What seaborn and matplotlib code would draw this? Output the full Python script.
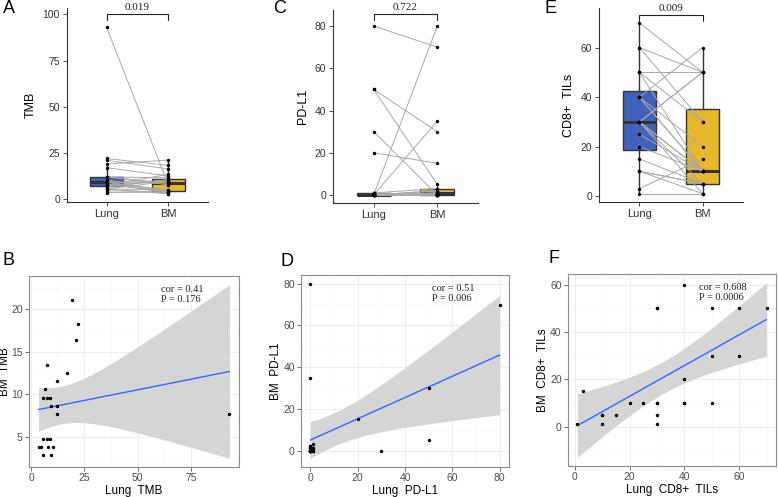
import numpy as np
import pandas as pd
import matplotlib
matplotlib.use('Agg')
import matplotlib.pyplot as plt
import seaborn as sns

# paired values (lung, brain metastasis)
tmb_lung = [19, 22, 21, 7.5, 17, 12, 6.5, 5.5, 7.5, 9, 9.5, 12, 12, 93,
            5.5, 7.5, 9, 3.5, 4.5, 8, 10.5, 5.5, 9.5]
tmb_bm = [21.1, 18.2, 16.3, 13.4, 12.5, 11.5, 10.6, 9.6, 9.6, 9.6, 8.6, 8.6,
          7.7, 7.7, 4.8, 4.8, 4.8, 3.8, 3.8, 3.8, 3.8, 2.9, 2.9]

pdl1_lung = [80, 50, 50, 30, 20, 0, 0, 0, 0, 0, 0, 0, 1, 1, 0, 0, 0, 0, 0,
             0, 1, 0, 1, 0, 1]
pdl1_bm = [70, 30, 5, 0, 15, 80, 35, 0, 1, 0, 0, 2, 1, 3, 0, 0, 1, 0, 0,
           0, 0, 0, 1, 2, 0]

cd8_lung = [1, 3, 10, 10, 15, 20, 25, 30, 30, 30, 30, 40, 40, 40, 50, 50,
            50, 60, 60, 70, 10, 30, 30, 40]
cd8_bm = [1, 15, 5, 1, 5, 10, 10, 10, 5, 1, 50, 60, 20, 10, 50, 30, 10, 50,
          30, 50, 5, 10, 50, 10]

groups = ['Lung', 'BM']
pvals = ['0.019', '0.722', '0.009']
cor_text = [('0.41', '0.176'), ('0.51', '0.006'), ('0.608', '0.0006')]

BLUE = '#4062BC'
YELLOW = '#E6B92C'
W, H = 778, 497

sns.set_theme(style='white')
plt.rcParams['font.family'] = ['Liberation Sans', 'DejaVu Sans']
SERIF = ['Liberation Serif', 'DejaVu Serif']

fig = plt.figure(figsize=(W / 100, H / 100), dpi=100)


def px_axes(l, t, r, b):
    return fig.add_axes([l / W, 1 - b / H, (r - l) / W, (b - t) / H])


def t_crit(df):
    z = 1.959964
    return (z + (z ** 3 + z) / (4 * df)
            + (5 * z ** 5 + 16 * z ** 3 + 3 * z) / (96 * df ** 2))


def paired_panel(ax, lung, bm, ylabel, pval, ylim, yticks, bracket):
    n = len(lung)
    df = pd.DataFrame({
        'pair': np.tile(np.arange(n), 2),
        'group': ['Lung'] * n + ['BM'] * n,
        'pos': [0] * n + [1] * n,
        'value': np.concatenate([lung, bm]),
    })
    sns.boxplot(data=df, x='group', y='value', hue='group', order=groups,
                palette={'Lung': BLUE, 'BM': YELLOW}, saturation=1,
                width=0.53, linecolor='#333333', linewidth=1,
                showfliers=False, showcaps=False,
                medianprops={'linewidth': 2.2}, legend=False, ax=ax)
    sns.lineplot(data=df, x='pos', y='value', units='pair', estimator=None,
                 color='#A8A8A8', lw=0.7, ax=ax, zorder=3)
    sns.scatterplot(data=df, x='pos', y='value', color='black', s=6,
                    linewidth=0, ax=ax, zorder=4)

    # significance bracket
    y1 = bracket
    y0 = y1 - 0.03 * (ylim[1] - ylim[0])
    ax.plot([0, 0, 1, 1], [y0, y1, y1, y0], color='#222222', lw=0.8,
            clip_on=False, zorder=5)
    ax.annotate(pval, (0.5, y1), xytext=(0, 1.5), textcoords='offset points',
                family=SERIF, fontsize=8, ha='center', va='bottom',
                color='#222222', annotation_clip=False)

    ax.set_xlim(-0.64, 1.64)
    ax.set_ylim(*ylim)
    ax.set_yticks(yticks)
    ax.set_xticks([0, 1], groups)
    ax.set_xlabel('')
    ax.set_ylabel(ylabel, fontsize=9, color='black')
    ax.tick_params(axis='both', length=3, width=0.6, color='#333333',
                   labelsize=8, labelcolor='#333333', left=True, bottom=True,
                   pad=2)
    ax.tick_params(axis='y', labelsize=7.5)
    for s in ['top', 'right']:
        ax.spines[s].set_visible(False)
    for s in ['left', 'bottom']:
        ax.spines[s].set_color('#333333')
        ax.spines[s].set_linewidth(0.8)


def cor_panel(ax, x, y, xlabel, ylabel, cor, p, xticks, yticks, xminor,
              yminor):
    x = np.asarray(x, float)
    y = np.asarray(y, float)
    n = len(x)
    xm = x.mean()
    sxx = ((x - xm) ** 2).sum()
    slope = ((x - xm) * (y - y.mean())).sum() / sxx
    icpt = y.mean() - slope * xm
    resid = y - (icpt + slope * x)
    s = np.sqrt((resid ** 2).sum() / (n - 2))
    grid = np.linspace(x.min(), x.max(), 80)
    fit = icpt + slope * grid
    se = s * np.sqrt(1 / n + (grid - xm) ** 2 / sxx)
    half = t_crit(n - 2) * se

    ax.fill_between(grid, fit - half, fit + half, color='#D5D5D5', lw=0,
                    zorder=2)
    sns.lineplot(x=grid, y=fit, color='#3366FF', lw=1, ax=ax, zorder=3)
    sns.scatterplot(x=x, y=y, color='black', s=6, linewidth=0, ax=ax,
                    zorder=4)

    xr = x.max() - x.min()
    ax.set_xlim(x.min() - 0.05 * xr, x.max() + 0.05 * xr)
    ylo = min(y.min(), (fit - half).min())
    yhi = max(y.max(), (fit + half).max())
    yr = yhi - ylo
    ax.set_ylim(ylo - 0.05 * yr, yhi + 0.05 * yr)

    ax.set_xticks(xticks)
    ax.set_yticks(yticks)
    ax.set_xticks(xminor, minor=True)
    ax.set_yticks(yminor, minor=True)
    ax.set_axisbelow(True)
    ax.grid(which='major', color='#EBEBEB', lw=0.6)
    ax.grid(which='minor', color='#F3F3F3', lw=0.4)
    ax.set_xlabel(xlabel, fontsize=8.5, color='black', labelpad=1)
    ax.set_ylabel(ylabel, fontsize=8.5, color='black', labelpad=1)
    ax.tick_params(axis='both', which='major', length=3, width=0.6,
                   color='#555555', labelsize=7.5, labelcolor='#4D4D4D',
                   left=True, bottom=True, pad=1.5)
    ax.tick_params(which='minor', length=0)
    for sp in ax.spines.values():
        sp.set_color('#8C8C8C')
        sp.set_linewidth(0.8)
    ax.text(0.63, 0.955, f'cor = {cor}\nP = {p}', transform=ax.transAxes,
            family=SERIF, fontsize=7.5, va='top', ha='left',
            linespacing=1.2, color='#222222')


axA = px_axes(67, 8, 208, 202)
paired_panel(axA, tmb_lung, tmb_bm, 'TMB', pvals[0], (-1.6, 103.5),
             [0, 25, 50, 75, 100], 100.3)
axC = px_axes(333, 10, 478, 203)
paired_panel(axC, pdl1_lung, pdl1_bm, 'PD-L1', pvals[1], (-3.8, 87.6),
             [0, 20, 40, 60, 80], 85.6)
axE = px_axes(599, 8, 743, 202)
paired_panel(axE, cd8_lung, cd8_bm, 'CD8+  TILs', pvals[2], (-2.4, 76),
             [0, 20, 40, 60], 73.3)

axB = px_axes(29, 276, 239, 467)
cor_panel(axB, tmb_lung, tmb_bm, 'Lung  TMB', 'BM  TMB', *cor_text[0],
          [0, 25, 50, 75], [5, 10, 15, 20], [12.5, 37.5, 62.5, 87.5],
          [2.5, 7.5, 12.5, 17.5, 22.5])
# keep the left-most label inside the figure
axB.yaxis.set_label_coords(-0.085, 0.5)
axD = px_axes(301, 275, 509, 467)
cor_panel(axD, pdl1_lung, pdl1_bm, 'Lung  PD-L1', 'BM  PD-L1', *cor_text[1],
          [0, 20, 40, 60, 80], [0, 20, 40, 60, 80], [10, 30, 50, 70],
          [10, 30, 50, 70])
axF = px_axes(568, 274, 776, 466)
cor_panel(axF, cd8_lung, cd8_bm, 'Lung  CD8+  TILs', 'BM  CD8+  TILs',
          *cor_text[2], [0, 20, 40, 60], [0, 20, 40, 60], [10, 30, 50, 70],
          [-10, 10, 30, 50])

for letter, lx, ly in [('A', 3, 13), ('C', 273, 13), ('E', 544, 13),
                       ('B', 3, 265), ('D', 280, 266), ('F', 549, 263)]:
    fig.text(lx / W, 1 - ly / H, letter, fontsize=13, va='baseline',
             ha='left', color='black')

fig.savefig('out.png', dpi=100)
